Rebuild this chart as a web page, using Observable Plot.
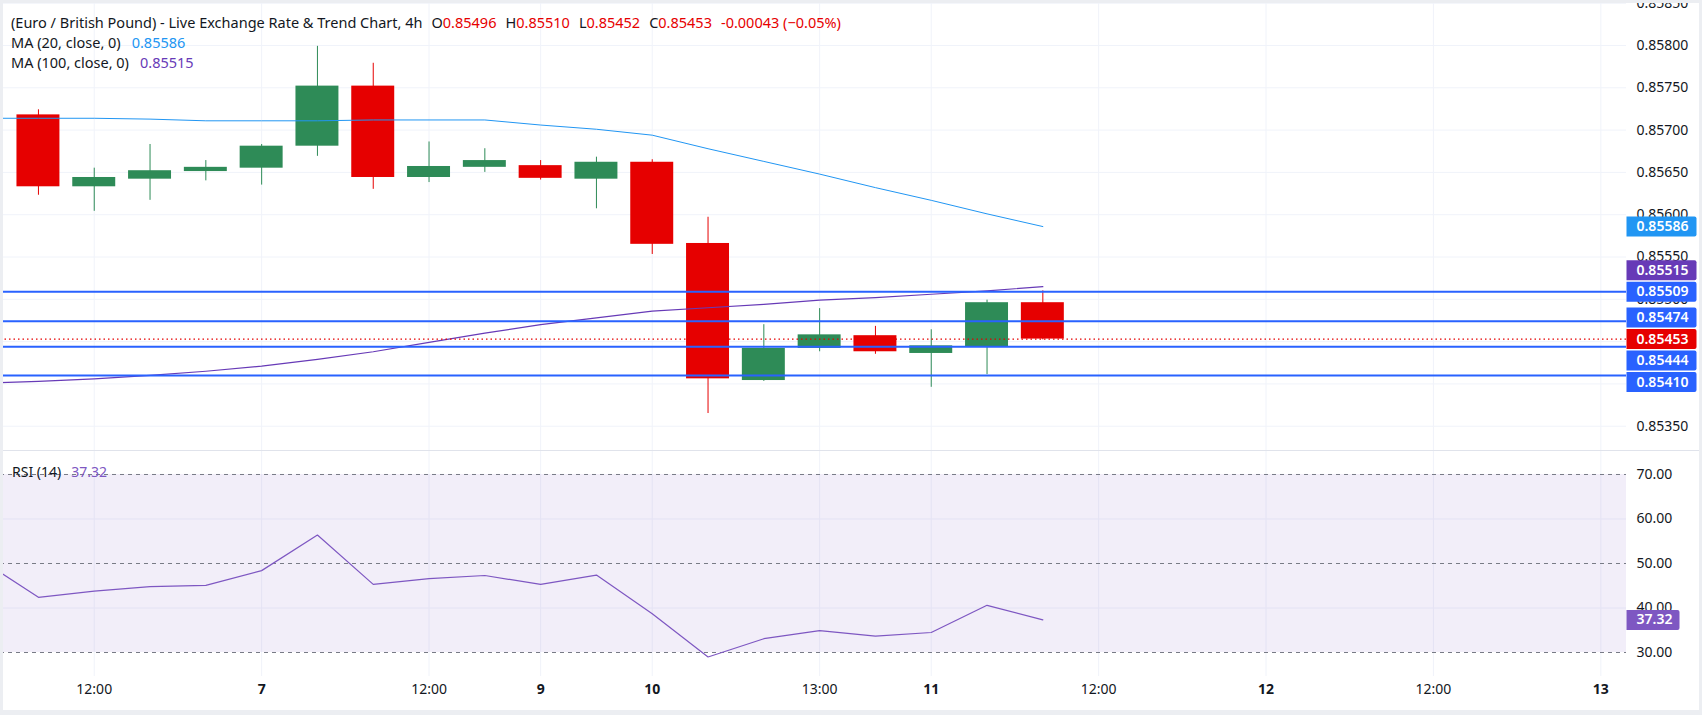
<!DOCTYPE html>
<html>
<head>
<meta charset="utf-8">
<script src="https://cdn.jsdelivr.net/npm/d3@7"></script>
<script src="https://cdn.jsdelivr.net/npm/@observablehq/plot@0.6"></script>
<style>
  body { margin: 0; background: #fff; font-family: "Noto Sans", sans-serif; }
  #wrap { position: relative; width: 1702px; height: 715px; overflow: hidden; background: #fff; }
  #price, #rsi { position: absolute; left: 0; }
  #price { top: 0; }
  #rsi { top: 450px; }
  #sep { position: absolute; left: 0; top: 450px; width: 1702px; height: 1px; background: #e0e3eb; }
  .legend { position: absolute; left: 11px; font-size: 14.5px; line-height: 20px; color: #131722; white-space: pre; }
  .legend .v { margin-left: 11px; }
  .legend .k { margin-left: 9px; }
  .r { color: #e60000; }
  #border { position: absolute; left: 0; top: 0; width: 1702px; height: 715px; box-sizing: border-box;
            border-style: solid; border-color: #eceef2; border-width: 3px 3px 5px 3px; pointer-events: none; }
</style>
</head>
<body>
<div id="wrap">
  <div id="price"></div>
  <div id="rsi"></div>
  <div id="sep"></div>
  <div class="legend" id="l1" style="top:12px"></div>
  <div class="legend" id="l2" style="top:32px"></div>
  <div class="legend" id="l3" style="top:52px"></div>
  <div class="legend" id="l4" style="top:462px; left:12px; font-size:14px"></div>
  <div id="border"></div>
</div>
<script>
// ---------------- data ----------------
const bars  = [0, 1, 2, 3, 4, 5, 6, 7, 8, 9, 10, 11, 12, 13, 14, 15, 16, 17, 18];
const open  = [0.85718, 0.85633, 0.85642, 0.85651, 0.85655, 0.85681, 0.85752, 0.85644, 0.85656, 0.85658, 0.85642, 0.85662, 0.85566, 0.85404, 0.85442, 0.85457, 0.85436, 0.85444, 0.85496];
const high  = [0.85724, 0.85655, 0.85683, 0.85664, 0.85683, 0.85799, 0.85779, 0.85686, 0.85678, 0.85664, 0.85668, 0.85665, 0.85597, 0.85470, 0.85489, 0.85468, 0.85464, 0.85499, 0.85510];
const low   = [0.85623, 0.85604, 0.85617, 0.85640, 0.85635, 0.85669, 0.85630, 0.85638, 0.85650, 0.85641, 0.85607, 0.85553, 0.85365, 0.85403, 0.85438, 0.85435, 0.85396, 0.85411, 0.85452];
const close = [0.85633, 0.85644, 0.85652, 0.85656, 0.85681, 0.85752, 0.85644, 0.85657, 0.85664, 0.85643, 0.85662, 0.85565, 0.85406, 0.85442, 0.85458, 0.85438, 0.85445, 0.85496, 0.85453];

// indicator series (first point is the bar just left of the visible window)
const indBars = [-1, 0, 1, 2, 3, 4, 5, 6, 7, 8, 9, 10, 11, 12, 13, 14, 15, 16, 17, 18];
const ma20  = [0.85714, 0.85714, 0.85714, 0.85713, 0.85711, 0.85711, 0.85711, 0.85712, 0.85712, 0.85712, 0.85706, 0.85701, 0.85694, 0.85678, 0.85663, 0.85648, 0.85632, 0.85617, 0.85601, 0.85586];
const ma100 = [0.85401, 0.85403, 0.85406, 0.85410, 0.85415, 0.85421, 0.85429, 0.85438, 0.85449, 0.85460, 0.85470, 0.85478, 0.85486, 0.85490, 0.85494, 0.85499, 0.85502, 0.85506, 0.85510, 0.85515];
const rsi   = [50.6, 42.4, 43.8, 44.8, 45.1, 48.4, 56.4, 45.3, 46.6, 47.3, 45.3, 47.4, 38.7, 29.0, 33.1, 34.9, 33.7, 34.5, 40.6, 37.32];

// horizontal support / resistance levels
const levels = [0.85509, 0.85474, 0.85444, 0.85410];

// axes
const timeTickBars   = [1, 4, 7, 9, 11, 14, 16, 19, 22, 25, 28];
const timeTickLabels = ["12:00", "7", "12:00", "9", "10", "13:00", "11", "12:00", "12", "12:00", "13"];
const priceTicks = [0.8535, 0.8540, 0.8545, 0.8550, 0.8555, 0.8560, 0.8565, 0.8570, 0.8575, 0.8580, 0.8585];
const rsiTicks = [30, 40, 50, 60, 70];
const rsiGrid = [40, 60];
const rsiDashed = [30, 50, 70];
const rsiBand = [30, 70];

// ---------------- styling ----------------
const W = 1702, priceH = 450, rsiH = 265, axisW = 76;
const xDomain = [-0.68, 28.46];
const priceDomain = [0.853213, 0.858532];
const rsiDomain = [24.61, 75.39];
const UP = "#2e8b57", DOWN = "#e60000";
const GRID = "#f0f3fa", TEXT = "#131722";
const C_MA20 = "#2196f3", C_MA100 = "#673ab7", C_LEVEL = "#2962ff", C_RSI = "#7e57c2";

const candles = bars.map((i, k) => ({i, open: open[k], high: high[k], low: low[k], close: close[k],
  color: close[k] >= open[k] ? UP : DOWN}));
const ind = indBars.map((i, k) => ({i, ma20: ma20[k], ma100: ma100[k], rsi: rsi[k]}));
const ticks = timeTickBars.map((i, k) => ({i, label: timeTickLabels[k], bold: !timeTickLabels[k].includes(":")}));

const last = candles[candles.length - 1];
const prevClose = candles[candles.length - 2].close;
const lastMa20 = ma20[ma20.length - 1], lastMa100 = ma100[ma100.length - 1], lastRsi = rsi[rsi.length - 1];

// price badges on the right scale, spread apart around the current price
const badgeVals = [
  {v: lastMa20, color: C_MA20},
  {v: lastMa100, color: C_MA100},
  ...levels.map(v => ({v, color: C_LEVEL})),
  {v: last.close, color: DOWN}
];
const yPix = d3.scaleLinear(priceDomain, [priceH, 0]);
function spread(items, anchor, scale, gap) {
  items.forEach(d => d.p = scale(d.v));
  const a = items.find(d => d.v === anchor);
  a.pos = a.p;
  let prev = a.p;
  items.filter(d => d.v > anchor).sort((x, y) => x.v - y.v).forEach(d => { d.pos = Math.min(d.p, prev - gap); prev = d.pos; });
  prev = a.p;
  items.filter(d => d.v < anchor).sort((x, y) => y.v - x.v).forEach(d => { d.pos = Math.max(d.p, prev + gap); prev = d.pos; });
  items.forEach(d => d.y = scale.invert(d.pos));
  return items;
}
spread(badgeVals, last.close, yPix, 21.5);

function badge(w, h, r) {
  return {draw(ctx) {
    ctx.moveTo(0, -h / 2);
    ctx.lineTo(w - r, -h / 2);
    ctx.arcTo(w, -h / 2, w, -h / 2 + r, r);
    ctx.lineTo(w, h / 2 - r);
    ctx.arcTo(w, h / 2, w - r, h / 2, r);
    ctx.lineTo(0, h / 2);
    ctx.closePath();
  }};
}

// ---------------- price pane ----------------
const pricePlot = Plot.plot({
  width: W, height: priceH,
  marginLeft: 0, marginRight: axisW, marginTop: 0, marginBottom: 0,
  x: {domain: xDomain, axis: null},
  y: {domain: priceDomain, axis: null},
  color: {type: "identity"},
  style: {fontFamily: "Noto Sans, sans-serif", background: "transparent"},
  marks: [
    Plot.ruleY(priceTicks, {stroke: GRID}),
    Plot.ruleX(timeTickBars, {stroke: GRID}),
    Plot.ruleX(candles, {x: "i", y1: "low", y2: "high", stroke: "color", strokeWidth: 1}),
    Plot.rect(candles, {x1: d => d.i - 0.385, x2: d => d.i + 0.385, y1: "open", y2: "close", fill: "color"}),
    Plot.line(ind, {x: "i", y: "ma20", stroke: C_MA20, strokeWidth: 1, clip: true}),
    Plot.line(ind, {x: "i", y: "ma100", stroke: C_MA100, strokeWidth: 1.2, clip: true}),
    Plot.ruleY(levels, {stroke: C_LEVEL, strokeWidth: 2}),
    Plot.ruleY([last.close], {stroke: DOWN, strokeWidth: 1.3, strokeDasharray: "1.5,3"}),
    Plot.text(priceTicks, {y: d => d, text: d => d.toFixed(5), frameAnchor: "right", dx: 10, textAnchor: "start", fill: TEXT, fontSize: 14}),
    Plot.dot(badgeVals, {y: "y", frameAnchor: "right", symbol: badge(70, 20, 2), r: 5, fill: "color", stroke: "none"}),
    Plot.text(badgeVals, {y: "y", text: d => d.v.toFixed(5), frameAnchor: "right", dx: 10, textAnchor: "start", fill: "white", fontSize: 14, fontWeight: 600})
  ]
});
document.getElementById("price").append(pricePlot);

// ---------------- RSI pane ----------------
const rsiPlot = Plot.plot({
  width: W, height: rsiH,
  marginLeft: 0, marginRight: axisW, marginTop: 0, marginBottom: 39,
  x: {domain: xDomain, axis: null},
  y: {domain: rsiDomain, axis: null},
  color: {type: "identity"},
  style: {fontFamily: "Noto Sans, sans-serif", background: "transparent"},
  marks: [
    Plot.ruleY(rsiGrid, {stroke: GRID}),
    Plot.ruleX(timeTickBars, {stroke: GRID}),
    Plot.rect([{lo: rsiBand[0], hi: rsiBand[1]}], {y1: "lo", y2: "hi", fill: C_RSI, fillOpacity: 0.1}),
    Plot.ruleY(rsiDashed, {stroke: "#787b86", strokeDasharray: "4,4"}),
    Plot.line(ind, {x: "i", y: "rsi", stroke: C_RSI, strokeWidth: 1.2, clip: true}),
    Plot.text(rsiTicks, {y: d => d, text: d => d.toFixed(2), frameAnchor: "right", dx: 10, textAnchor: "start", fill: TEXT, fontSize: 14}),
    Plot.dot([{v: lastRsi}], {y: "v", frameAnchor: "right", symbol: badge(53, 20, 2), r: 5, fill: C_RSI, stroke: "none"}),
    Plot.text([{v: lastRsi}], {y: "v", text: d => d.v.toFixed(2), frameAnchor: "right", dx: 10, textAnchor: "start", fill: "white", fontSize: 14, fontWeight: 600}),
    Plot.text(ticks.filter(d => !d.bold), {x: "i", text: "label", frameAnchor: "bottom", dy: 17, fill: TEXT, fontSize: 14}),
    Plot.text(ticks.filter(d => d.bold), {x: "i", text: "label", frameAnchor: "bottom", dy: 17, fill: TEXT, fontSize: 14, fontWeight: 700})
  ]
});
document.getElementById("rsi").append(rsiPlot);

// ---------------- legends ----------------
const f5 = v => v.toFixed(5);
const chg = last.close - prevClose;
const pct = chg / prevClose * 100;
document.getElementById("l1").innerHTML =
  "(Euro / British Pound) - Live Exchange Rate &amp; Trend Chart, 4h" +
  `<span class="k">O</span><span class="r">${f5(last.open)}</span>` +
  `<span class="k">H</span><span class="r">${f5(last.high)}</span>` +
  `<span class="k">L</span><span class="r">${f5(last.low)}</span>` +
  `<span class="k">C</span><span class="r">${f5(last.close)}</span>` +
  `<span class="r k">${chg.toFixed(5)} (${pct < 0 ? "\u2212" : "+"}${Math.abs(pct).toFixed(2)}%)</span>`;
document.getElementById("l2").innerHTML = `MA (20, close, 0)<span class="v" style="color:${C_MA20}">${f5(lastMa20)}</span>`;
document.getElementById("l3").innerHTML = `MA (100, close, 0)<span class="v" style="color:${C_MA100}">${f5(lastMa100)}</span>`;
document.getElementById("l4").innerHTML = `RSI (14)<span class="v" style="color:${C_RSI}; margin-left:10px">${lastRsi.toFixed(2)}</span>`;
</script>
</body>
</html>
